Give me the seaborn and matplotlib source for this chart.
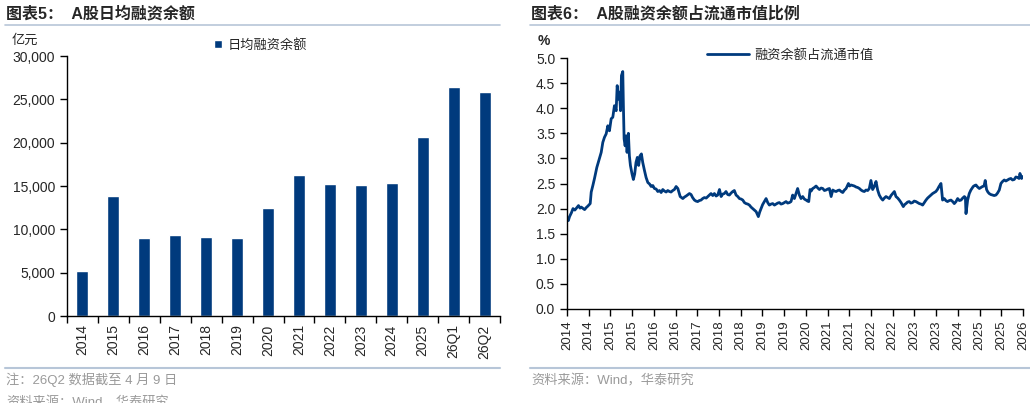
import pandas as pd
import seaborn as sns
import matplotlib.pyplot as plt
from matplotlib.lines import Line2D

## bar chart data (亿元)
bar_labels = ["2014", "2015", "2016", "2017", "2018", "2019", "2020",
              "2021", "2022", "2023", "2024", "2025", "26Q1", "26Q2"]
bar_values = [5190, 13850, 8960, 9310, 9080, 9000, 12420,
              16230, 15190, 15150, 15380, 20620, 26460, 25810]

## line chart data (%)
ratio_dates = [
    "2014-01-02", "2014-01-15", "2014-01-27", "2014-02-15", "2014-03-02", "2014-03-20", "2014-04-01",
    "2014-04-25", "2014-05-10", "2014-05-22", "2014-06-10", "2014-06-24", "2014-07-10", "2014-07-26",
    "2014-08-18", "2014-08-28", "2014-09-13", "2014-09-29", "2014-10-22", "2014-11-11", "2014-12-04",
    "2014-12-20",
    "2015-01-05", "2015-01-22", "2015-02-07", "2015-02-23", "2015-03-12", "2015-03-28", "2015-04-13",
    "2015-04-30", "2015-05-10", "2015-05-23", "2015-06-02", "2015-06-12", "2015-06-21", "2015-07-04",
    "2015-07-10", "2015-07-17", "2015-07-27", "2015-08-06", "2015-08-15", "2015-08-28", "2015-09-07",
    "2015-09-17", "2015-10-03", "2015-10-16", "2015-10-29", "2015-11-11", "2015-11-24", "2015-12-07",
    "2015-12-20",
    "2016-01-03", "2016-01-16", "2016-02-02", "2016-02-18", "2016-03-06", "2016-03-23", "2016-04-08",
    "2016-04-24", "2016-05-10", "2016-05-27", "2016-06-12", "2016-06-29", "2016-07-15", "2016-07-31",
    "2016-08-16", "2016-09-02", "2016-09-18", "2016-10-05", "2016-10-20", "2016-11-06", "2016-11-22",
    "2016-12-09", "2016-12-26",
    "2017-01-18", "2017-02-13", "2017-03-01", "2017-03-17", "2017-04-19", "2017-05-05", "2017-05-20",
    "2017-06-07", "2017-06-22", "2017-07-09", "2017-07-25", "2017-08-11", "2017-08-27", "2017-09-13",
    "2017-10-01", "2017-10-16", "2017-11-01", "2017-11-17", "2017-12-04", "2017-12-20",
    "2018-01-06", "2018-01-22", "2018-02-08", "2018-02-24", "2018-03-12", "2018-03-28", "2018-04-13",
    "2018-04-30", "2018-05-16", "2018-06-02", "2018-06-18", "2018-07-04", "2018-07-21", "2018-08-07",
    "2018-08-23", "2018-09-09", "2018-09-25", "2018-10-11", "2018-10-27", "2018-11-13", "2018-11-29",
    "2018-12-15",
    "2019-01-01", "2019-01-18", "2019-02-03", "2019-02-25", "2019-03-10", "2019-03-23", "2019-04-08",
    "2019-04-25", "2019-05-12", "2019-05-28", "2019-06-13", "2019-06-30", "2019-07-16", "2019-08-02",
    "2019-08-18", "2019-09-03", "2019-09-19", "2019-10-06", "2019-10-22", "2019-11-08", "2019-11-24",
    "2019-12-10", "2019-12-27",
    "2020-01-12", "2020-01-28", "2020-02-14", "2020-03-01", "2020-03-17", "2020-04-03", "2020-04-19",
    "2020-05-06", "2020-05-22", "2020-06-08", "2020-06-22", "2020-07-04", "2020-07-17", "2020-07-28",
    "2020-08-12", "2020-08-28", "2020-09-14", "2020-10-01", "2020-10-17", "2020-11-03", "2020-11-19",
    "2020-12-05", "2020-12-21",
    "2021-01-07", "2021-01-23", "2021-02-09", "2021-02-25", "2021-03-14", "2021-03-30", "2021-04-15",
    "2021-05-01", "2021-05-18", "2021-06-03", "2021-06-20", "2021-07-06", "2021-07-29", "2021-08-10",
    "2021-08-24", "2021-09-10", "2021-09-25", "2021-10-12", "2021-10-28", "2021-11-14", "2021-11-30",
    "2021-12-16",
    "2022-01-01", "2022-01-18", "2022-02-03", "2022-02-19", "2022-03-07", "2022-03-24", "2022-04-09",
    "2022-04-26", "2022-05-12", "2022-05-28", "2022-06-14", "2022-07-01", "2022-07-17", "2022-08-02",
    "2022-08-18", "2022-09-04", "2022-09-20", "2022-10-06", "2022-10-23", "2022-11-08", "2022-11-25",
    "2022-12-11", "2022-12-28",
    "2023-01-19", "2023-02-01", "2023-02-14", "2023-03-02", "2023-03-18", "2023-04-03", "2023-04-20",
    "2023-05-06", "2023-05-23", "2023-06-08", "2023-06-25", "2023-07-12", "2023-07-28", "2023-08-14",
    "2023-08-30", "2023-09-15", "2023-10-01", "2023-10-18", "2023-11-03", "2023-11-19", "2023-12-05",
    "2023-12-20",
    "2024-01-05", "2024-01-24", "2024-02-09", "2024-02-25", "2024-03-12", "2024-03-28", "2024-04-15",
    "2024-05-01", "2024-05-18", "2024-06-03", "2024-06-20", "2024-07-06", "2024-07-23", "2024-08-08",
    "2024-08-25", "2024-09-10", "2024-09-20", "2024-09-26", "2024-10-12", "2024-10-28", "2024-11-13",
    "2024-12-06", "2024-12-20",
    "2025-01-02", "2025-01-18", "2025-02-04", "2025-02-20", "2025-03-07", "2025-03-22", "2025-04-03",
    "2025-04-16", "2025-04-29", "2025-05-12", "2025-05-28", "2025-06-14", "2025-06-30", "2025-07-17",
    "2025-08-02", "2025-08-19", "2025-09-04", "2025-09-20", "2025-10-07", "2025-10-23", "2025-11-08",
    "2025-11-25", "2025-12-11", "2025-12-27",
    "2026-01-13", "2026-01-29", "2026-02-15", "2026-03-01", "2026-03-10", "2026-03-26", "2026-04-09",
]
ratio_values = [
    1.82, 1.76, 1.84, 1.92, 2.00, 1.97, 2.00,
    2.06, 2.01, 2.03, 2.00, 1.98, 2.02, 2.05,
    2.10, 2.33, 2.46, 2.60, 2.82, 2.96, 3.12,
    3.32,
    3.42, 3.49, 3.65, 3.55, 3.79, 3.82, 4.05,
    3.95, 4.45, 4.18, 4.32, 3.95, 4.65, 4.73,
    4.05, 3.39, 3.25, 3.45, 3.12, 3.50, 3.05,
    2.86, 2.69, 2.58, 2.69, 2.92, 3.02, 2.86,
    3.05,
    3.09, 2.92, 2.76, 2.62, 2.52, 2.49, 2.44,
    2.46, 2.40, 2.39, 2.34, 2.36, 2.32, 2.38,
    2.35, 2.33, 2.36, 2.34, 2.33, 2.36, 2.38,
    2.44, 2.40,
    2.24, 2.20, 2.23, 2.25, 2.30, 2.28, 2.22,
    2.17, 2.15, 2.14, 2.16, 2.17, 2.20, 2.22,
    2.21, 2.24, 2.27, 2.30, 2.26, 2.30,
    2.25, 2.27, 2.38, 2.24, 2.29, 2.30, 2.34,
    2.28, 2.27, 2.31, 2.34, 2.36, 2.27, 2.24,
    2.20, 2.19, 2.17, 2.12, 2.10, 2.09, 2.07,
    2.03,
    2.00, 1.97, 1.94, 1.84, 1.93, 2.00, 2.08,
    2.14, 2.20, 2.12, 2.07, 2.09, 2.10, 2.07,
    2.09, 2.11, 2.12, 2.09, 2.10, 2.12, 2.14,
    2.11, 2.12,
    2.14, 2.27, 2.20, 2.30, 2.40, 2.27, 2.20,
    2.24, 2.19, 2.17, 2.15, 2.14, 2.38, 2.35,
    2.40, 2.42, 2.45, 2.41, 2.38, 2.41, 2.40,
    2.36, 2.37,
    2.39, 2.40, 2.24, 2.37, 2.35, 2.34, 2.36,
    2.37, 2.34, 2.32, 2.37, 2.40, 2.50, 2.45,
    2.47, 2.46, 2.45, 2.43, 2.42, 2.40, 2.37,
    2.35,
    2.34, 2.37, 2.36, 2.40, 2.56, 2.38, 2.44,
    2.54, 2.37, 2.27, 2.21, 2.17, 2.21, 2.24,
    2.22, 2.20, 2.26, 2.30, 2.34, 2.24, 2.21,
    2.17, 2.12,
    2.04, 2.08, 2.10, 2.13, 2.14, 2.11, 2.12,
    2.15, 2.14, 2.12, 2.10, 2.09, 2.07, 2.12,
    2.17, 2.21, 2.24, 2.27, 2.30, 2.32, 2.34,
    2.38,
    2.44, 2.50, 2.17, 2.20, 2.16, 2.14, 2.16,
    2.17, 2.14, 2.10, 2.14, 2.20, 2.16, 2.17,
    2.21, 2.24, 2.22, 1.90, 2.17, 2.30, 2.37,
    2.44, 2.46,
    2.47, 2.43, 2.40, 2.42, 2.44, 2.45, 2.56,
    2.38, 2.33, 2.30, 2.28, 2.27, 2.26, 2.27,
    2.31, 2.37, 2.50, 2.54, 2.57, 2.55, 2.57,
    2.59, 2.60, 2.57,
    2.58, 2.63, 2.62, 2.60, 2.70, 2.60, 2.64,
]

navy = "#003A7D"
rule_color = "#B7C6D8"
grey = "#9A9A9A"

sns.set_style("ticks")
plt.rcParams['font.family'] = ['Liberation Sans', 'Noto Sans CJK SC']
plt.rcParams['axes.unicode_minus'] = False

W, H = 1030, 403
fig = plt.figure(figsize=(W / 100, H / 100), dpi=100)


def fx(px):
    return px / W


def fy(py):
    return 1 - py / H


## titles and rules
fig.text(fx(6), fy(14), "图表5：  A股日均融资余额", fontsize=11.5, fontweight="bold", va="center")
fig.text(fx(531), fy(14), "图表6：  A股融资余额占流通市值比例", fontsize=11.5, fontweight="bold", va="center")
for x0, x1 in [(5, 500), (530, 1030)]:
    fig.add_artist(Line2D([fx(x0), fx(x1)], [fy(25), fy(25)], color=rule_color, lw=1.2))
    fig.add_artist(Line2D([fx(x0), fx(x1)], [fy(368), fy(368)], color=rule_color, lw=1.5))

fig.text(fx(12), fy(41), "亿元", fontsize=9.5, va="center")
fig.text(fx(538), fy(41), "%", fontsize=10, va="center", fontweight="bold")

fig.text(fx(6), fy(380), "注：26Q2 数据截至 4 月 9 日", fontsize=9.5, color=grey, va="center")
fig.text(fx(6), fy(396), "资料来源：Wind，华泰研究", fontsize=9.5, color=grey, va="top")
fig.text(fx(531), fy(381), "资料来源：Wind，华泰研究", fontsize=9.5, color=grey, va="center")

## Plot-1: bars
ax1 = fig.add_axes([fx(67), fy(316), fx(500 - 67), (316 - 56) / H])
bar_df = pd.DataFrame({"period": bar_labels, "value": bar_values})
sns.barplot(data=bar_df, x="period", y="value", color=navy, width=0.39,
            saturation=1, label="日均融资余额", ax=ax1)
ax1.set_ylim(0, 30000)
ax1.set_xlim(-0.5, len(bar_labels) - 0.5)
ax1.set_yticks(range(0, 30001, 5000))
ax1.set_yticklabels([f"{v:,}" for v in range(0, 30001, 5000)], fontsize=10)
ax1.set_xticks(range(len(bar_labels)))
ax1.set_xticklabels(bar_labels, rotation=90, fontsize=10)
ax1.tick_params(axis="x", which="major", length=0, pad=6)
ax1.set_xticks([i - 0.5 for i in range(len(bar_labels) + 1)], minor=True)
ax1.tick_params(axis="x", which="minor", length=5, width=1, color="black")
ax1.tick_params(axis="y", length=5, width=1, color="black")
ax1.set_xlabel("")
ax1.set_ylabel("")
sns.despine(ax=ax1)
for s in ["left", "bottom"]:
    ax1.spines[s].set_color("black")
    ax1.spines[s].set_linewidth(1)
ax1.legend(loc="center left", bbox_to_anchor=(fx(214), fy(45)), bbox_transform=fig.transFigure,
           frameon=False, fontsize=9.5, handlelength=0.6, handleheight=0.6,
           handletextpad=0.4, borderpad=0, borderaxespad=0)

## Plot-2: ratio line
ax2 = fig.add_axes([fx(567), fy(309), fx(1023 - 567), (309 - 58) / H])
line_df = pd.DataFrame({"date": pd.to_datetime(ratio_dates), "ratio": ratio_values})
sns.lineplot(data=line_df, x="date", y="ratio", color=navy, linewidth=2.0,
             label="融资余额占流通市值", ax=ax2)
ax2.set_ylim(0, 5.0)
ax2.set_yticks([i * 0.5 for i in range(11)])
ax2.set_yticklabels([f"{i * 0.5:.1f}" for i in range(11)], fontsize=10)
start, end = line_df["date"].iloc[0], line_df["date"].iloc[-1]
ax2.set_xlim(start, end)
tick_dates = pd.date_range(start, end, periods=22)
ax2.set_xticks(tick_dates)
ax2.set_xticklabels([str(d.year) for d in tick_dates], rotation=90, fontsize=9.5)
ax2.tick_params(axis="both", length=5, width=1, color="black")
ax2.tick_params(axis="x", pad=3)
ax2.set_xlabel("")
ax2.set_ylabel("")
sns.despine(ax=ax2)
for s in ["left", "bottom"]:
    ax2.spines[s].set_color("black")
    ax2.spines[s].set_linewidth(1)
ax2.legend(loc="center left", bbox_to_anchor=(fx(707), fy(55)), bbox_transform=fig.transFigure,
           frameon=False, fontsize=9.5, handlelength=3.2, handletextpad=0.4,
           borderpad=0, borderaxespad=0)

plt.savefig("out.png", dpi=100)
